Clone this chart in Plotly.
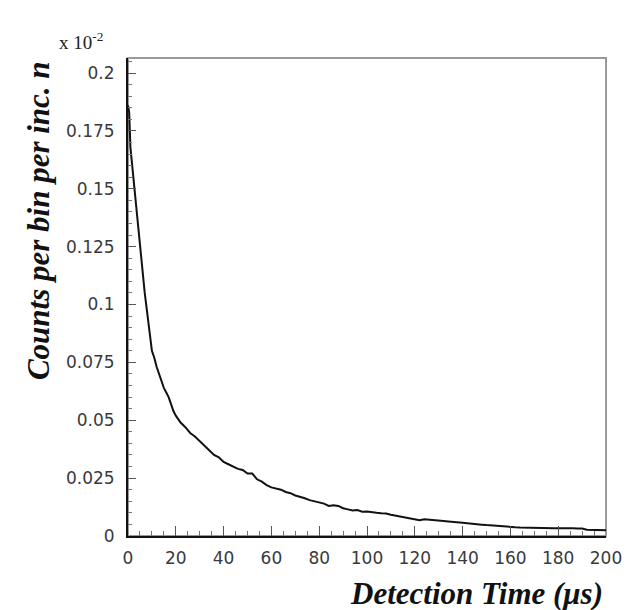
import plotly.graph_objects as go

# Detection time (µs)
time_us = [0, 0.5, 1, 4, 7, 10, 11, 12, 13, 14, 15, 16, 17, 18, 19, 20,
           22, 24, 26, 28, 30, 32, 34, 36, 38, 40, 42, 44, 46, 48, 50,
           52, 54, 56, 58, 60, 62, 64, 66, 68, 70, 72, 74, 76, 78, 80,
           82, 84, 86, 88, 90, 92, 94, 96, 98, 100, 102, 104, 106, 108, 110,
           112, 114, 116, 118, 120, 122, 124, 126, 128, 130, 132, 134, 136, 138, 140,
           142, 144, 146, 148, 150, 152, 154, 156, 158, 160, 162, 164, 166, 168, 170,
           172, 174, 176, 178, 180, 182, 184, 186, 188, 190, 192, 194, 196, 198, 200]

# Counts per bin per incident n (in units of 1e-2)
counts = [0.186, 0.183, 0.168, 0.137, 0.105, 0.080, 0.077, 0.073, 0.070, 0.067, 0.064, 0.062, 0.060, 0.057, 0.054, 0.052,
          0.049, 0.047, 0.0445, 0.043, 0.041, 0.039, 0.037, 0.035, 0.034, 0.032, 0.031, 0.030, 0.029, 0.0285, 0.027,
          0.027, 0.0245, 0.0235, 0.022, 0.021, 0.0205, 0.020, 0.019, 0.0185, 0.0175, 0.017, 0.0163, 0.0155, 0.015, 0.0147,
          0.014, 0.013, 0.0133, 0.013, 0.012, 0.0115, 0.011, 0.0112, 0.0105, 0.0106, 0.0102, 0.0100, 0.0098, 0.0097, 0.0092,
          0.0088, 0.0083, 0.0080, 0.0076, 0.0070, 0.0068, 0.0072, 0.0071, 0.0069, 0.0067, 0.0065, 0.0063, 0.0062, 0.0059, 0.0057,
          0.0055, 0.0054, 0.0051, 0.0049, 0.0047, 0.0045, 0.0043, 0.0042, 0.0040, 0.0039, 0.0038, 0.0037, 0.0037, 0.0036, 0.0036,
          0.0035, 0.0035, 0.0034, 0.0034, 0.0033, 0.0034, 0.0033, 0.0033, 0.0032, 0.0032, 0.0027, 0.0026, 0.0026, 0.0026, 0.0025]

x_ticks = [0, 20, 40, 60, 80, 100, 120, 140, 160, 180, 200]
y_ticks = [0, 0.025, 0.05, 0.075, 0.1, 0.125, 0.15, 0.175, 0.2]
y_tick_labels = ["0", "0.025", "0.05", "0.075", "0.1", "0.125", "0.15", "0.175", "0.2"]

fig = go.Figure()
fig.add_trace(go.Scatter(x=time_us, y=counts, mode="lines",
                         line=dict(color="#111111", width=2), showlegend=False))

tick_font = dict(family="DejaVu Sans", size=17, color="#3a3a3a")
title_font = "Liberation Serif"

fig.update_layout(
    width=638, height=610,
    margin=dict(l=128, r=32, t=58, b=74),
    paper_bgcolor="white", plot_bgcolor="white",
    xaxis=dict(range=[0, 200], tickvals=x_ticks, ticks="inside", ticklen=10,
               tickcolor="#555555", tickwidth=1, showgrid=False, zeroline=False,
               showline=True, linecolor="#111111", linewidth=2,
               tickfont=tick_font, ticklabelstandoff=6,
               minor=dict(dtick=5, ticks="inside", ticklen=5, tickcolor="#777777", showgrid=False)),
    yaxis=dict(range=[0, 0.2065], tickvals=y_ticks, ticktext=y_tick_labels,
               ticks="inside", ticklen=8, tickcolor="#555555", tickwidth=1,
               showgrid=False, zeroline=False, showline=True, linecolor="#111111", linewidth=2,
               tickfont=tick_font, ticklabelstandoff=8,
               minor=dict(dtick=0.005, ticks="inside", ticklen=4, tickcolor="#777777", showgrid=False)),
    shapes=[dict(type="rect", xref="paper", yref="paper", x0=0, y0=0, x1=1, y1=1,
                 line=dict(color="#999999", width=2), layer="below")],
    annotations=[
        dict(text="<b><i>Counts per bin per inc. n</i></b>", xref="paper", yref="paper",
             x=-0.186, y=0.659, textangle=-90, showarrow=False,
             font=dict(family=title_font, size=31, color="#111111"),
             xanchor="center", yanchor="middle"),
        dict(text="<b><i>Detection Time (μs)</i></b>", xref="paper", yref="paper",
             x=0.998, y=-0.121, showarrow=False,
             font=dict(family=title_font, size=31, color="#111111"),
             xanchor="right", yanchor="middle"),
        dict(text="x 10<sup>-2</sup>", xref="paper", yref="paper",
             x=-0.148, y=1.035, showarrow=False,
             font=dict(family=title_font, size=19, color="#222222"),
             xanchor="left", yanchor="middle"),
    ],
)

fig.write_html("out.html")
